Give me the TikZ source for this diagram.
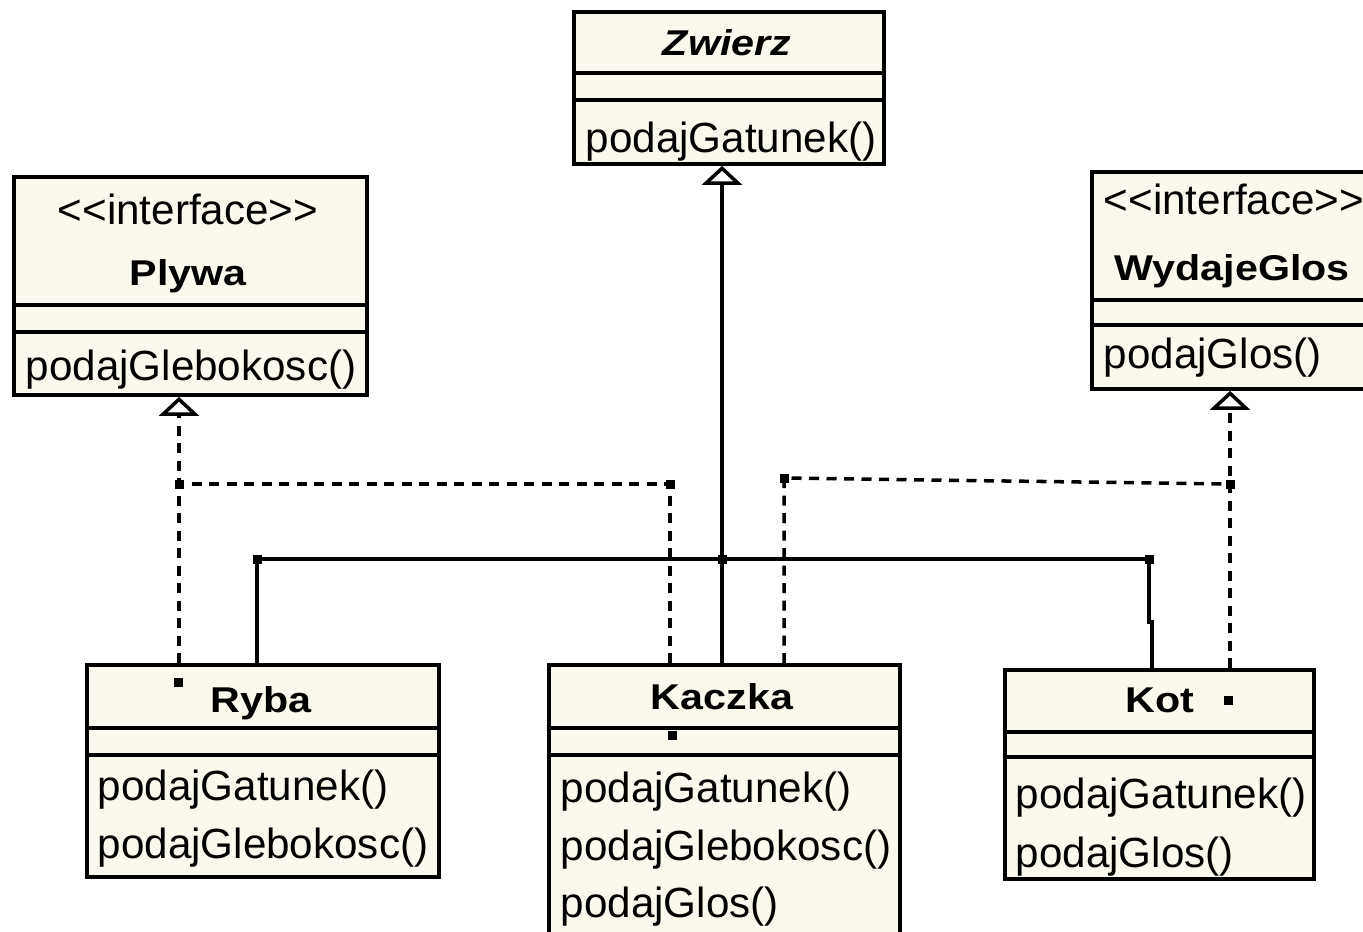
\documentclass[tikz,border=0pt]{standalone}
\usepackage{fontspec}
\setmainfont{Liberation Sans}
\newfontfamily\tytulfont{Liberation Sans}[FakeStretch=1.15]
\usetikzlibrary{arrows.meta,calc}
\definecolor{klasaTlo}{RGB}{251,249,238}
\newcommand{\metodafont}{\fontsize{12}{14}\selectfont}
\newcommand{\nazwafont}{\tytulfont\fontsize{10.2}{12}\selectfont\bfseries}

\tikzset{
  klasa/.style={draw,fill=klasaTlo,line width=1.1pt,inner sep=0pt,anchor=north west},
  linia/.style={line width=1.1pt},
  nazwa/.style={anchor=base,inner sep=0pt,font=\nazwafont},
  stereotyp/.style={anchor=base,inner sep=0pt,font=\metodafont},
  metoda/.style={anchor=base west,inner sep=0pt,font=\metodafont},
  gen/.style={line width=1pt,-{Triangle[open,width=4mm,length=1.9mm]}},
  polaczenie/.style={line width=1pt},
  realizacja/.style={line width=1pt,dash pattern=on 1mm off 0.75mm},
  pkt/.style={fill,minimum size=0.9mm,inner sep=0pt}
}

\begin{document}
\begin{tikzpicture}
        \useasboundingbox (0,0) rectangle (13.63,-9.31);
        % klasy
        \node[klasa,minimum width=3.10cm,minimum height=1.52cm] (zwierz) at (5.72,-0.10) {};
        \node[klasa,minimum width=3.53cm,minimum height=2.18cm] (plywa) at (0.12,-1.75) {};
        \node[klasa,minimum width=2.85cm,minimum height=2.17cm] (wydaje) at (10.90,-1.70) {};
        \node[klasa,minimum width=3.52cm,minimum height=2.12cm] (ryba) at (0.85,-6.63) {};
        \node[klasa,minimum width=3.51cm,minimum height=3.00cm] (kaczka) at (5.47,-6.63) {};
        \node[klasa,minimum width=3.09cm,minimum height=2.09cm] (kot) at (10.03,-6.68) {};
        % przegrody
        \draw[linia] (5.72,-0.73) -- (8.82,-0.73);
        \draw[linia] (5.72,-1.00) -- (8.82,-1.00);
        \draw[linia] (0.12,-3.05) -- (3.65,-3.05);
        \draw[linia] (0.12,-3.32) -- (3.65,-3.32);
        \draw[linia] (10.90,-3.00) -- (13.75,-3.00);
        \draw[linia] (10.90,-3.25) -- (13.75,-3.25);
        \draw[linia] (0.85,-7.28) -- (4.37,-7.28);
        \draw[linia] (0.85,-7.55) -- (4.37,-7.55);
        \draw[linia] (5.47,-7.28) -- (8.98,-7.28);
        \draw[linia] (5.47,-7.55) -- (8.98,-7.55);
        \draw[linia] (10.03,-7.32) -- (13.12,-7.32);
        \draw[linia] (10.03,-7.57) -- (13.12,-7.57);
        % napisy
        \node[nazwa,font=\nazwafont\itshape] (zwierzN) at (7.27,-0.55) {Zwierz};
        \node[metoda] (zwierzM1) at (5.85,-1.52) {podajGatunek()};
        \node[stereotyp] (plywaS) at (1.88,-2.24) {<{}<interface>{}>};
        \node[nazwa] (plywaN) at (1.88,-2.85) {Plywa};
        \node[metoda] (plywaM1) at (0.25,-3.80) {podajGlebokosc()};
        \node[stereotyp] (wydajeS) at (12.34,-2.14) {<{}<interface>{}>};
        \node[nazwa] (wydajeN) at (12.32,-2.80) {WydajeGlos};
        \node[metoda] (wydajeM1) at (11.03,-3.68) {podajGlos()};
        \node[nazwa] (rybaN) at (2.61,-7.12) {Ryba};
        \node[metoda] (rybaM1) at (0.97,-8.00) {podajGatunek()};
        \node[metoda] (rybaM2) at (0.97,-8.58) {podajGlebokosc()};
        \node[nazwa] (kaczkaN) at (7.22,-7.09) {Kaczka};
        \node[metoda] (kaczkaM1) at (5.60,-8.02) {podajGatunek()};
        \node[metoda] (kaczkaM2) at (5.60,-8.60) {podajGlebokosc()};
        \node[metoda] (kaczkaM3) at (5.60,-9.17) {podajGlos()};
        \node[nazwa] (kotN) at (11.60,-7.12) {Kot};
        \node[metoda] (kotM1) at (10.15,-8.08) {podajGatunek()};
        \node[metoda] (kotM2) at (10.15,-8.67) {podajGlos()};
        % punkty zalamania
        \coordinate (wezel) at (7.22,-5.59);
        \coordinate (rg) at (2.57,-5.59);
        \coordinate (kg) at (11.49,-5.59);
        \coordinate (kj) at (11.52,-6.22);
        \coordinate (pd) at (1.79,-4.84);
        \coordinate (pk) at (6.70,-4.84);
        \coordinate (wk) at (7.84,-4.78);
        \coordinate (wd) at (12.30,-4.84);
        % dziedziczenie
        \draw[gen] (kaczka.north -| wezel) -- (zwierz.south -| wezel);
        \draw[polaczenie] (ryba.north -| rg) -- (rg) -- (kg) -- (kg |- kj) -- (kj) -- (kot.north -| kj);
        % realizacja interfejsow
        \draw[realizacja,gen] (ryba.north -| pd) -- (pd) -- (plywa.south -| pd);
        \draw[realizacja] (kaczka.north -| pk) -- (pk) -- (pd);
        \draw[realizacja,gen] (kot.north -| wd) -- (wd) -- (wydaje.south -| wd);
        \draw[realizacja] (kaczka.north -| wk) -- (wk) -- (wd);
        % kropki
        \foreach \x/\y [count=\i] in {2.57/-5.59,7.22/-5.59,11.49/-5.59,1.79/-4.84,6.70/-4.84,7.84/-4.78,12.30/-4.84,1.78/-6.82,6.72/-7.35,12.28/-7.00}
          \node[pkt] (p\i) at (\x,\y) {};
\end{tikzpicture}
\end{document}
